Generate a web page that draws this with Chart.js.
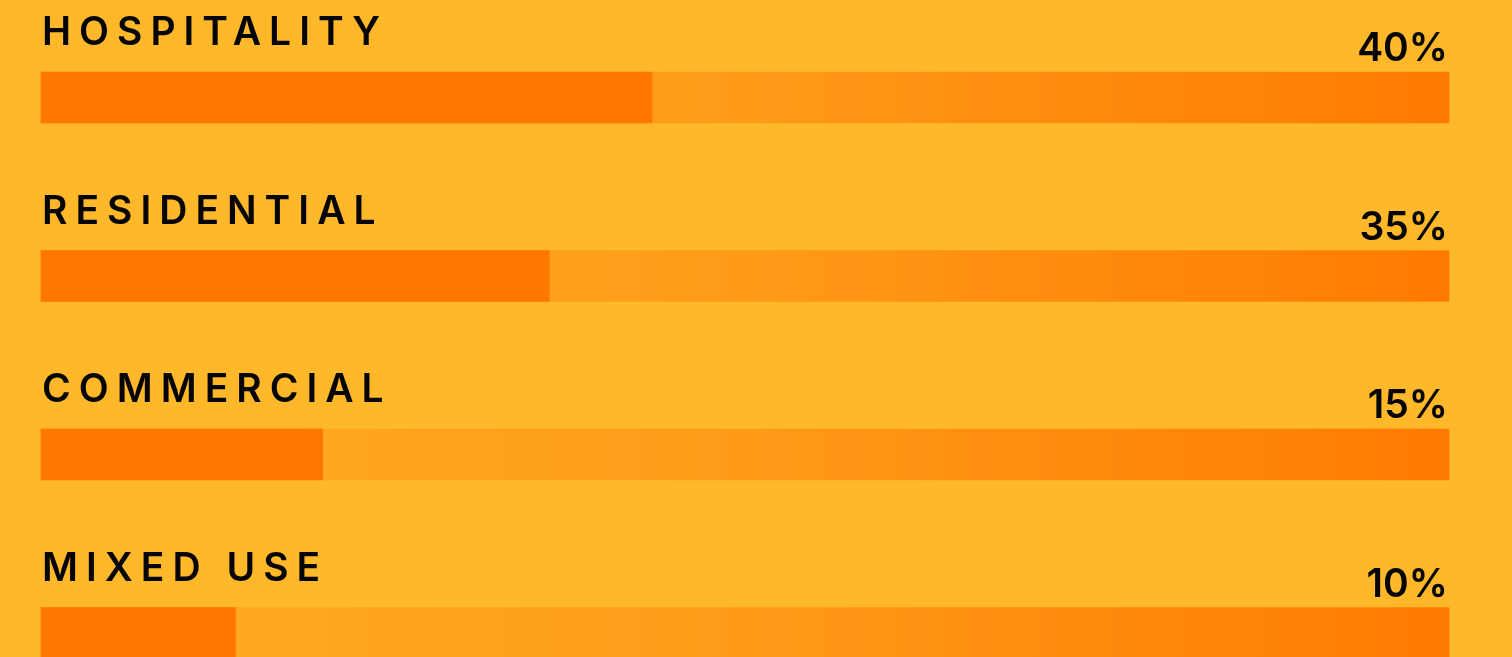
<!DOCTYPE html>
<html>
<head>
<meta charset="utf-8">
<script src="https://cdn.jsdelivr.net/npm/chart.js@4"></script>
<style>
  html, body { margin: 0; padding: 0; background: #FFB829; overflow: hidden; }
  canvas { display: block; }
</style>
</head>
<body>
<canvas id="c" width="1512" height="657"></canvas>
<script>
// Categories and values
const categories = ['HOSPITALITY', 'RESIDENTIAL', 'COMMERCIAL', 'MIXED USE'];
const shareValues = [40, 35, 15, 10];          // printed percentages
const barFill = [43.4, 36.1, 20.0, 13.8];      // filled length of each bar (as drawn, % of track)
const trackValues = [100, 100, 100, 100];      // full track

const percentLabels = shareValues.map(v => v + '%');

function trackGradient(ctx) {
  const chart = ctx.chart;
  const area = chart.chartArea;
  if (!area) return '#FF9A1A';
  const g = chart.ctx.createLinearGradient(area.left, 0, area.right, 0);
  g.addColorStop(0, '#FFAC23');
  g.addColorStop(0.45, '#FF9D1B');
  g.addColorStop(1, '#FF7A03');
  return g;
}

const textPlugin = {
  id: 'barText',
  afterDatasetsDraw(chart) {
    const ctx = chart.ctx;
    const meta = chart.getDatasetMeta(1);
    const area = chart.chartArea;
    ctx.save();
    ctx.fillStyle = '#050505';
    ctx.textBaseline = 'alphabetic';
    meta.data.forEach((bar, i) => {
      const top = bar.y - bar.height / 2;
      ctx.font = '600 39px Inter, Lato, sans-serif';
      ctx.letterSpacing = '8px';
      ctx.textAlign = 'left';
      ctx.fillText(categories[i], area.left + 1, top - 27);
      ctx.font = '600 39px Inter, Lato, sans-serif';
      ctx.letterSpacing = '0px';
      ctx.textAlign = 'right';
      ctx.fillText(percentLabels[i], area.right - 1, top - 11);
    });
    ctx.restore();
  }
};

new Chart(document.getElementById('c'), {
  type: 'bar',
  data: {
    labels: categories,
    datasets: [
      {
        data: barFill,
        backgroundColor: '#FF7700',
        borderWidth: 0,
        grouped: false,
        barThickness: 51,
        clip: false,
        order: 0
      },
      {
        data: trackValues,
        backgroundColor: trackGradient,
        borderWidth: 0,
        grouped: false,
        barThickness: 51,
        clip: false,
        order: 1
      }
    ]
  },
  options: {
    indexAxis: 'y',
    responsive: false,
    devicePixelRatio: 1,
    animation: false,
    layout: { padding: { left: 41, right: 63, top: 97.5, bottom: 24 } },
    scales: {
      x: { display: false, min: 0, max: 100 },
      y: { display: false, offset: false }
    },
    plugins: {
      legend: { display: false },
      tooltip: { enabled: false }
    }
  },
  plugins: [textPlugin]
});
</script>
</body>
</html>
